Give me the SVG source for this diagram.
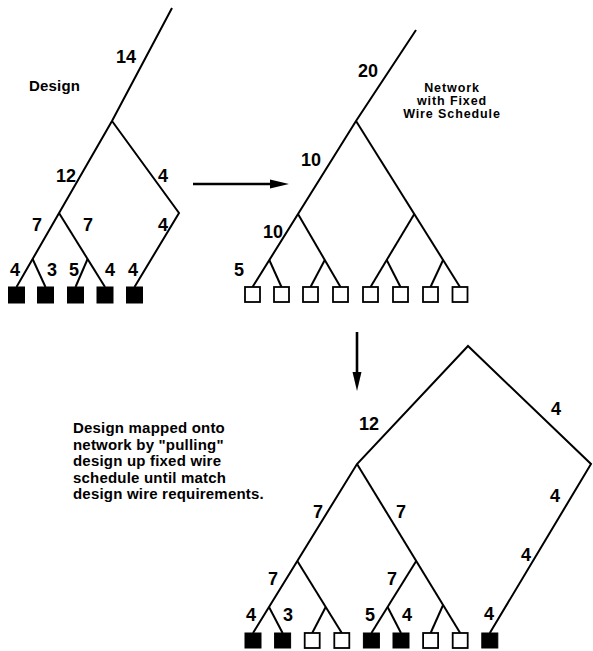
<svg xmlns="http://www.w3.org/2000/svg" width="593" height="651" viewBox="0 0 593 651">
  <style>
    .wire { fill: none; stroke: #000; stroke-width: 2; stroke-linejoin: miter; stroke-linecap: butt; }
    .arrow { fill: none; stroke: #000; stroke-width: 2.6; }
    .head { fill: #000; stroke: none; }
    .used { fill: #000; stroke: #000; stroke-width: 1; }
    .free { fill: #fff; stroke: #000; stroke-width: 1.8; }
    .num { font-family: "Liberation Sans", Arial, sans-serif; font-size: 18px; font-weight: bold; text-anchor: middle; fill: #000; }
    .note { font-family: "Liberation Sans", Arial, sans-serif; font-size: 15px; font-weight: bold; fill: #000; letter-spacing: 0.2px; }
    .caption { font-family: "Liberation Sans", Arial, sans-serif; font-size: 12.5px; font-weight: bold; text-anchor: middle; fill: #000; letter-spacing: 0.9px; }
  </style>

  <!-- wiring of the three trees plus the two arrows -->
  <g id="connectors">
    <!-- design tree -->
    <polyline class="wire" points="172,8 112,121 16.5,287"/>
    <polyline class="wire" points="112,121 179,213 134.5,287"/>
    <line class="wire" x1="59" y1="213" x2="105" y2="287"/>
    <line class="wire" x1="32.6" y1="259" x2="45.5" y2="287"/>
    <line class="wire" x1="87.6" y1="259" x2="75.5" y2="287"/>

    <!-- network with fixed wire schedule -->
    <polyline class="wire" points="416,30 356,121 252.5,287"/>
    <line class="wire" x1="356" y1="121" x2="460" y2="287"/>
    <line class="wire" x1="298" y1="214" x2="340.5" y2="287"/>
    <line class="wire" x1="414.3" y1="214" x2="370.5" y2="287"/>
    <line class="wire" x1="269.3" y1="260" x2="281.5" y2="287"/>
    <line class="wire" x1="324.8" y1="260" x2="310.5" y2="287"/>
    <line class="wire" x1="386.7" y1="260" x2="400.5" y2="287"/>
    <line class="wire" x1="443.1" y1="260" x2="430.5" y2="287"/>

    <!-- mapped design -->
    <polyline class="wire" points="253,633 357,464 468,346 591,464 489.8,633"/>
    <line class="wire" x1="357" y1="464" x2="460.2" y2="633"/>
    <line class="wire" x1="297.3" y1="561" x2="341.8" y2="633"/>
    <line class="wire" x1="269" y1="607" x2="282.6" y2="633"/>
    <line class="wire" x1="325.7" y1="607" x2="312.2" y2="633"/>
    <line class="wire" x1="416.2" y1="561" x2="371.4" y2="633"/>
    <line class="wire" x1="387.6" y1="607" x2="401" y2="633"/>
    <line class="wire" x1="443.1" y1="605" x2="430.6" y2="633"/>

    <!-- arrows -->
    <line class="arrow" x1="193" y1="184" x2="274" y2="184"/>
    <polygon class="head" points="270,179.5 289,184 270,188.5"/>
    <line class="arrow" x1="357" y1="332" x2="357" y2="375"/>
    <polygon class="head" points="352.5,372 361.5,372 357,391"/>
  </g>

  <!-- design leaves -->
  <g id="design-leaf-1"><rect class="used" x="8.5" y="287" width="16" height="16"/></g>
  <g id="design-leaf-2"><rect class="used" x="37.5" y="287" width="16" height="16"/></g>
  <g id="design-leaf-3"><rect class="used" x="67.5" y="287" width="16" height="16"/></g>
  <g id="design-leaf-4"><rect class="used" x="97" y="287" width="16" height="16"/></g>
  <g id="design-leaf-5"><rect class="used" x="126.5" y="287" width="16" height="16"/></g>

  <!-- network leaves -->
  <g id="net-leaf-1"><rect class="free" x="245" y="287" width="15" height="15"/></g>
  <g id="net-leaf-2"><rect class="free" x="274" y="287" width="15" height="15"/></g>
  <g id="net-leaf-3"><rect class="free" x="303" y="287" width="15" height="15"/></g>
  <g id="net-leaf-4"><rect class="free" x="333" y="287" width="15" height="15"/></g>
  <g id="net-leaf-5"><rect class="free" x="363" y="287" width="15" height="15"/></g>
  <g id="net-leaf-6"><rect class="free" x="393" y="287" width="15" height="15"/></g>
  <g id="net-leaf-7"><rect class="free" x="423" y="287" width="15" height="15"/></g>
  <g id="net-leaf-8"><rect class="free" x="452.5" y="287" width="15" height="15"/></g>

  <!-- mapped leaves -->
  <g id="map-leaf-1"><rect class="used" x="245" y="633" width="16" height="15"/></g>
  <g id="map-leaf-2"><rect class="used" x="274.6" y="633" width="16" height="15"/></g>
  <g id="map-leaf-3"><rect class="free" x="304.7" y="633" width="15" height="15"/></g>
  <g id="map-leaf-4"><rect class="free" x="334.3" y="633" width="15" height="15"/></g>
  <g id="map-leaf-5"><rect class="used" x="363.4" y="633" width="16" height="15"/></g>
  <g id="map-leaf-6"><rect class="used" x="393" y="633" width="16" height="15"/></g>
  <g id="map-leaf-7"><rect class="free" x="423.1" y="633" width="15" height="15"/></g>
  <g id="map-leaf-8"><rect class="free" x="452.7" y="633" width="15" height="15"/></g>
  <g id="map-leaf-9"><rect class="used" x="481.8" y="633" width="16" height="15"/></g>

  <!-- wire counts and captions -->
  <g id="labels">
    <text class="note" x="29" y="91">Design</text>
    <text class="num" x="126" y="63">14</text>
    <text class="num" x="66" y="182">12</text>
    <text class="num" x="163" y="182">4</text>
    <text class="num" x="37" y="231">7</text>
    <text class="num" x="88" y="231">7</text>
    <text class="num" x="163" y="231">4</text>
    <text class="num" x="15" y="276">4</text>
    <text class="num" x="52" y="276">3</text>
    <text class="num" x="74" y="276">5</text>
    <text class="num" x="110" y="276">4</text>
    <text class="num" x="133" y="276">4</text>

    <text class="caption" x="452" y="92">Network</text>
    <text class="caption" x="452" y="105">with Fixed</text>
    <text class="caption" x="452" y="118">Wire Schedule</text>
    <text class="num" x="368" y="77">20</text>
    <text class="num" x="311" y="166">10</text>
    <text class="num" x="273" y="238">10</text>
    <text class="num" x="239" y="276">5</text>

    <text class="note" x="73" y="433">Design mapped onto</text>
    <text class="note" x="73" y="450">network by "pulling"</text>
    <text class="note" x="73" y="466">design up fixed wire</text>
    <text class="note" x="73" y="483">schedule until match</text>
    <text class="note" x="73" y="499">design wire requirements.</text>

    <text class="num" x="369" y="430">12</text>
    <text class="num" x="556" y="415">4</text>
    <text class="num" x="555" y="502">4</text>
    <text class="num" x="526" y="561">4</text>
    <text class="num" x="489" y="620">4</text>
    <text class="num" x="318" y="518">7</text>
    <text class="num" x="401" y="518">7</text>
    <text class="num" x="273" y="585">7</text>
    <text class="num" x="392" y="585">7</text>
    <text class="num" x="251" y="621">4</text>
    <text class="num" x="288" y="621">3</text>
    <text class="num" x="370" y="621">5</text>
    <text class="num" x="407" y="621">4</text>
  </g>
</svg>
